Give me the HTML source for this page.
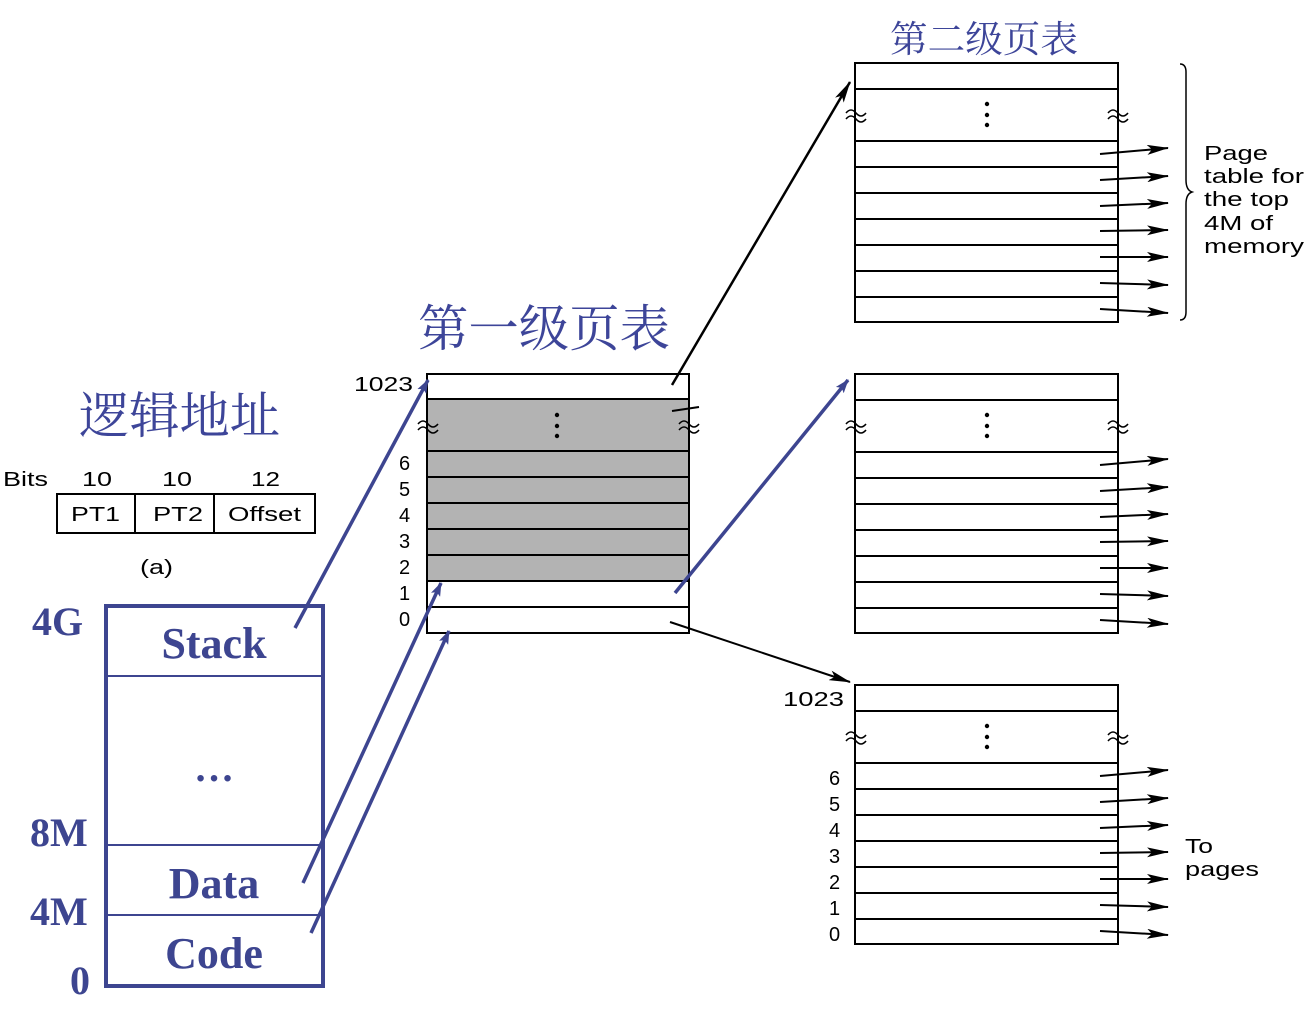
<!DOCTYPE html>
<html><head><meta charset="utf-8"><style>
html,body{margin:0;padding:0;background:#fff;}
svg{display:block}
.s{font-family:"Liberation Sans",sans-serif;font-size:20px;fill:#000}
.cj{font-family:"Liberation Serif","Noto Serif CJK SC",serif;fill:#3d4599}
.b{font-family:"Liberation Serif",serif;font-weight:bold;fill:#3d4590}
.w{fill:none;stroke:#000;stroke-width:1.6}
</style></head><body>
<svg width="1312" height="1029" viewBox="0 0 1312 1029" xmlns="http://www.w3.org/2000/svg">
<defs>
<marker id="ak" markerWidth="22" markerHeight="10" refX="21" refY="5" orient="auto" markerUnits="userSpaceOnUse"><path d="M0,0 L22,5 L0,10 L5,5z" fill="#000"/></marker>
<marker id="ab" markerWidth="14" markerHeight="10" refX="13" refY="5" orient="auto" markerUnits="userSpaceOnUse"><path d="M0,0 L14,5 L0,10 L3,5z" fill="#3d4590"/></marker>
<g id="tl"><path class="w" d="M-10,-3 q5,-6 10,0 t10,0"/><path class="w" d="M-10,3 q5,-6 10,0 t10,0"/></g>
</defs>

<!-- titles -->
<text class="cj" x="890" y="52" font-size="37" textLength="188" lengthAdjust="spacingAndGlyphs">第二级页表</text>
<text class="cj" x="418" y="346" font-size="50" textLength="252" lengthAdjust="spacingAndGlyphs">第一级页表</text>
<text class="cj" x="79" y="433" font-size="50" textLength="201" lengthAdjust="spacingAndGlyphs">逻辑地址</text>

<!-- address format -->
<text class="s" x="3" y="486" textLength="45" lengthAdjust="spacingAndGlyphs">Bits</text>
<text class="s" x="82" y="486" textLength="30" lengthAdjust="spacingAndGlyphs">10</text>
<text class="s" x="162" y="486" textLength="30" lengthAdjust="spacingAndGlyphs">10</text>
<text class="s" x="251" y="486" textLength="29" lengthAdjust="spacingAndGlyphs">12</text>
<rect x="57" y="494" width="258" height="39" fill="none" stroke="#000" stroke-width="2"/>
<line x1="135" y1="494" x2="135" y2="533" stroke="#000" stroke-width="2"/>
<line x1="214" y1="494" x2="214" y2="533" stroke="#000" stroke-width="2"/>
<text class="s" x="71" y="521" textLength="49" lengthAdjust="spacingAndGlyphs">PT1</text>
<text class="s" x="153" y="521" textLength="50" lengthAdjust="spacingAndGlyphs">PT2</text>
<text class="s" x="228" y="521" textLength="73" lengthAdjust="spacingAndGlyphs">Offset</text>
<text class="s" x="140" y="574" textLength="33" lengthAdjust="spacingAndGlyphs">(a)</text>

<!-- memory box -->
<rect x="106" y="606" width="217" height="380" fill="none" stroke="#3d4590" stroke-width="4"/>
<line x1="106" y1="676" x2="323" y2="676" stroke="#3d4590" stroke-width="2"/>
<line x1="106" y1="845" x2="323" y2="845" stroke="#3d4590" stroke-width="2"/>
<line x1="106" y1="915" x2="323" y2="915" stroke="#3d4590" stroke-width="2"/>
<text class="b" x="214" y="658" font-size="44" text-anchor="middle">Stack</text>
<text class="b" x="214" y="781" font-size="40" text-anchor="middle">…</text>
<text class="b" x="214" y="898" font-size="44" text-anchor="middle">Data</text>
<text class="b" x="214" y="968" font-size="44" text-anchor="middle">Code</text>
<text class="b" x="32" y="635" font-size="40">4G</text>
<text class="b" x="30" y="846" font-size="40">8M</text>
<text class="b" x="30" y="925" font-size="40">4M</text>
<text class="b" x="70" y="994" font-size="40">0</text>

<!-- level 1 table -->
<rect x="427" y="399" width="262" height="182" fill="#b3b3b3"/>
<rect x="427" y="374" width="262" height="259" fill="none" stroke="#000" stroke-width="2"/>
<g stroke="#000" stroke-width="2">
<line x1="427" y1="399" x2="689" y2="399"/><line x1="427" y1="451" x2="689" y2="451"/>
<line x1="427" y1="477" x2="689" y2="477"/><line x1="427" y1="503" x2="689" y2="503"/>
<line x1="427" y1="529" x2="689" y2="529"/><line x1="427" y1="555" x2="689" y2="555"/>
<line x1="427" y1="581" x2="689" y2="581"/><line x1="427" y1="607" x2="689" y2="607"/>
</g>
<g fill="#000"><circle cx="557" cy="415" r="2.2"/><circle cx="557" cy="426" r="2.2"/><circle cx="557" cy="436" r="2.2"/></g>
<use href="#tl" x="428" y="427"/>
<use href="#tl" x="689" y="427"/>
<line x1="672" y1="411" x2="699" y2="407" stroke="#000" stroke-width="2"/>
<text class="s" x="354" y="391" textLength="59" lengthAdjust="spacingAndGlyphs">1023</text>
<g class="s"><text x="399" y="470">6</text><text x="399" y="496">5</text>
<text x="399" y="522">4</text><text x="399" y="548">3</text>
<text x="399" y="574">2</text><text x="399" y="600">1</text>
<text x="399" y="626">0</text></g>

<!-- level 2 tables -->
<g id="t">
<rect x="855" y="63" width="263" height="259" fill="none" stroke="#000" stroke-width="2"/>
<g stroke="#000" stroke-width="2">
<line x1="855" y1="89" x2="1118" y2="89"/><line x1="855" y1="141" x2="1118" y2="141"/>
<line x1="855" y1="167" x2="1118" y2="167"/><line x1="855" y1="193" x2="1118" y2="193"/>
<line x1="855" y1="219" x2="1118" y2="219"/><line x1="855" y1="245" x2="1118" y2="245"/>
<line x1="855" y1="271" x2="1118" y2="271"/><line x1="855" y1="297" x2="1118" y2="297"/>
</g>
<g fill="#000"><circle cx="987" cy="104" r="2.2"/><circle cx="987" cy="115" r="2.2"/><circle cx="987" cy="125" r="2.2"/></g>
<use href="#tl" x="856" y="116"/>
<use href="#tl" x="1118" y="116"/>
<g stroke="#000" stroke-width="2" marker-end="url(#ak)">
<line x1="1100" y1="154" x2="1168" y2="148"/><line x1="1100" y1="180" x2="1168" y2="176"/>
<line x1="1100" y1="206" x2="1168" y2="203"/><line x1="1100" y1="231" x2="1168" y2="230"/>
<line x1="1100" y1="257" x2="1168" y2="257"/><line x1="1100" y1="283" x2="1168" y2="285"/>
<line x1="1100" y1="309" x2="1168" y2="313"/>
</g>
</g>
<use href="#t" y="311"/>
<use href="#t" y="622"/>

<text class="s" x="783" y="706" textLength="61" lengthAdjust="spacingAndGlyphs">1023</text>
<g class="s"><text x="829" y="785">6</text><text x="829" y="811">5</text>
<text x="829" y="837">4</text><text x="829" y="863">3</text>
<text x="829" y="889">2</text><text x="829" y="915">1</text>
<text x="829" y="941">0</text></g>
<text class="s" x="1185" y="853" textLength="28" lengthAdjust="spacingAndGlyphs">To</text>
<text class="s" x="1185" y="876" textLength="74" lengthAdjust="spacingAndGlyphs">pages</text>

<!-- brace -->
<path d="M1180,64 q6,0 6,8 v108 q0,10 6,12 q-6,2 -6,12 v108 q0,8 -6,8" fill="none" stroke="#000" stroke-width="1.5"/>
<text class="s" x="1204" y="160" textLength="64" lengthAdjust="spacingAndGlyphs">Page</text>
<text class="s" x="1204" y="183" textLength="100" lengthAdjust="spacingAndGlyphs">table for</text>
<text class="s" x="1204" y="206" textLength="85" lengthAdjust="spacingAndGlyphs">the top</text>
<text class="s" x="1204" y="230" textLength="69" lengthAdjust="spacingAndGlyphs">4M of</text>
<text class="s" x="1204" y="253" textLength="100" lengthAdjust="spacingAndGlyphs">memory</text>

<!-- connectors -->
<line x1="672" y1="385" x2="850" y2="82" stroke="#000" stroke-width="2.5" marker-end="url(#ak)"/>
<line x1="670" y1="622" x2="850" y2="682" stroke="#000" stroke-width="2" marker-end="url(#ak)"/>
<g stroke="#3d4590" stroke-width="3.5" marker-end="url(#ab)">
<line x1="295" y1="628" x2="428" y2="380"/>
<line x1="303" y1="883" x2="441" y2="583"/>
<line x1="311" y1="933" x2="449" y2="631"/>
<line x1="675" y1="593" x2="848" y2="380"/>
</g>
</svg>
</body></html>
